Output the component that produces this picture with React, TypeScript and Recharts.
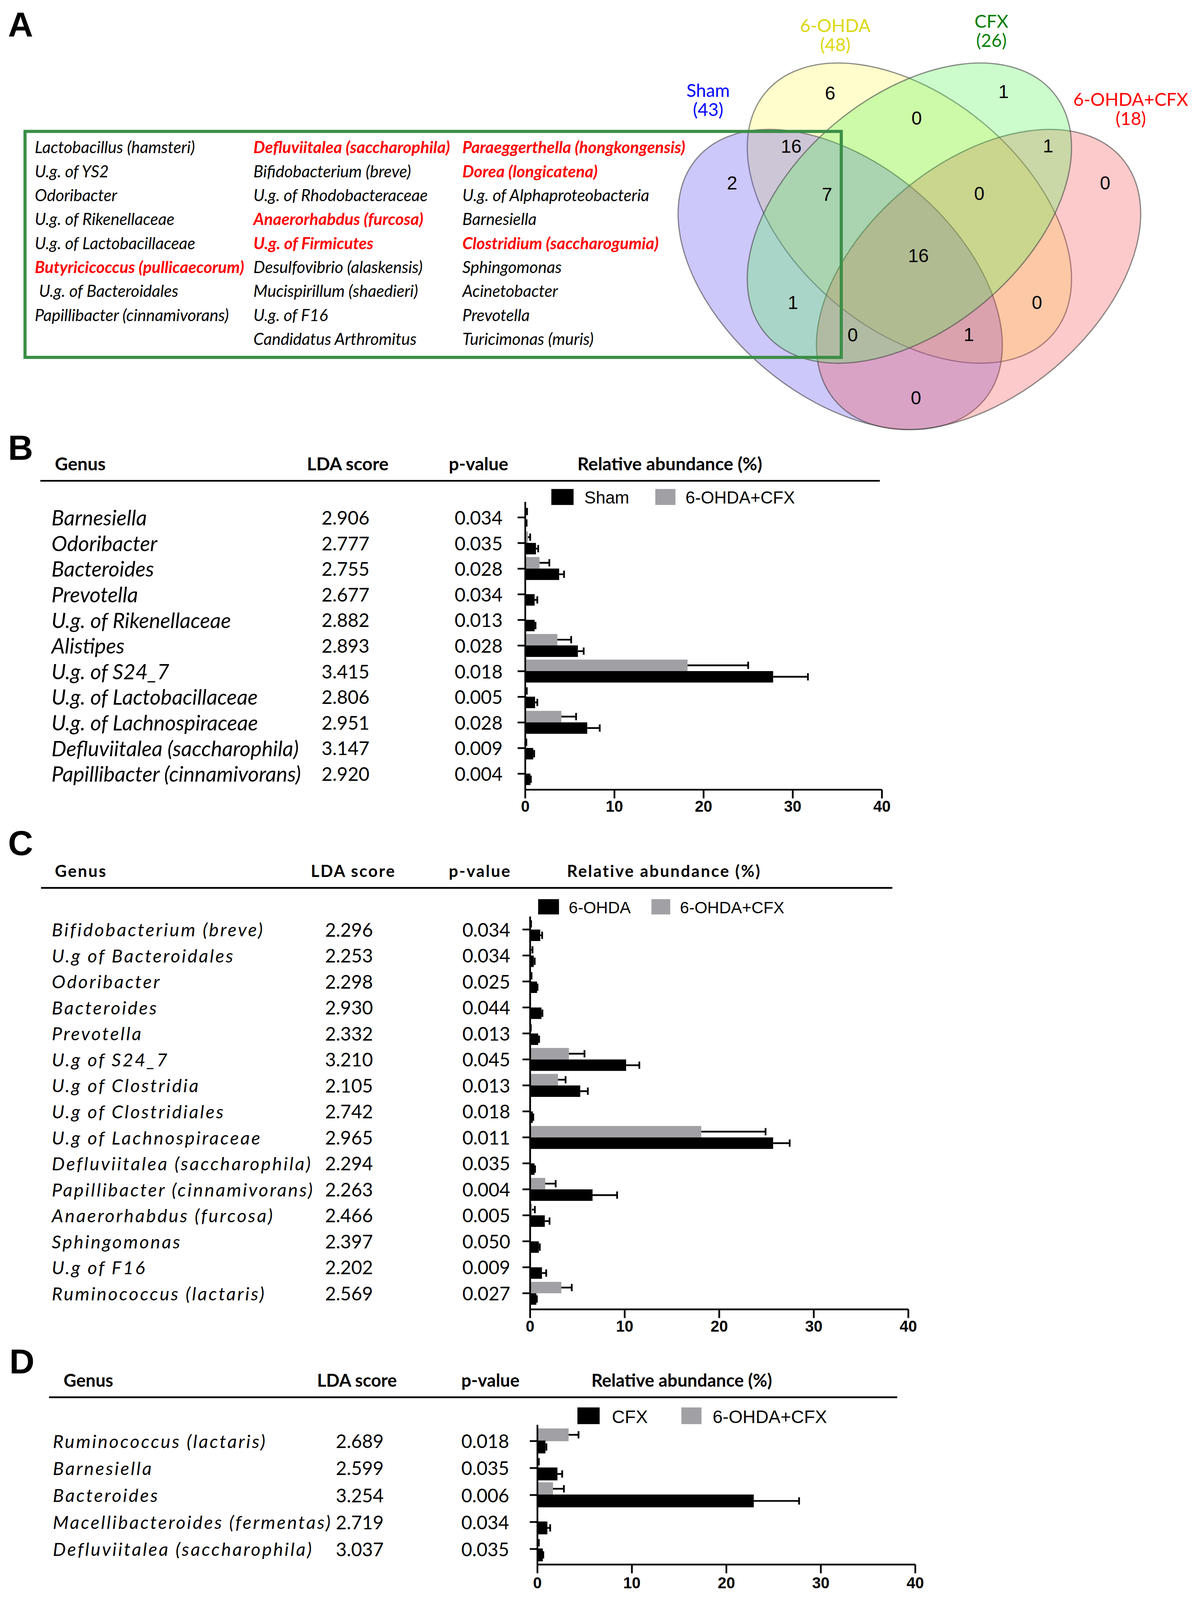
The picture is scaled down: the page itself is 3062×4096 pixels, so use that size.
import React from 'react';
import { BarChart, Bar, XAxis, YAxis, ErrorBar, Legend, ScatterChart, Scatter } from 'recharts';

const S = 0.89;
const u = (v: number) => v * S;
const CAL = "Lato, 'Noto Sans', sans-serif";
const ARIAL = "'Liberation Sans', Arial, sans-serif";
const GRAY = '#a1a1a5';

// ---------------- Panel A : Venn ----------------
const setNames = ['Sham', '6-OHDA', 'CFX', '6-OHDA+CFX'];
const setTotals = [43, 48, 26, 18];
const setFill = ['#5848ee', '#fffa55', '#55f555', '#f54e4e'];
const setTextColor = ['#0000ff', '#dcd80e', '#008000', '#ff0000'];
const drawOrder = [1, 0, 3, 2];
// venn layout units (1 unit = 10 px of the reference)
const ellipseX = [51.7, 71.6, 71.6, 91.5];
const ellipseY = [80.4, 61.3, 61.3, 80.4];
const ellipseRot = [40, 40, -40, -40];
const setLabelX = [13.7, 50.3, 95.2, 135.3];
const setLabelY = [26.3, 7.6, 6.4, 28.9];

const regionCounts = [6, 1, 0, 16, 1, 2, 7, 0, 0, 16, 1, 0, 0, 1, 0];
const regionX = [48.8, 98.7, 73.7, 37.6, 111.5, 20.6, 47.9, 91.7, 127.9, 74.2, 38.1, 108.3, 55.3, 88.7, 73.5];
const regionY = [26.7, 26.3, 33.9, 42.0, 41.9, 52.6, 55.8, 55.6, 52.5, 73.5, 86.9, 86.9, 96.3, 96.1, 114.4];

const listCol1 = ['Lactobacillus (hamsteri)', 'U.g. of YS2', 'Odoribacter', 'U.g. of Rikenellaceae', 'U.g. of Lactobacillaceae', 'Butyricicoccus (pullicaecorum)', ' U.g. of Bacteroidales', 'Papillibacter (cinnamivorans)'];
const listCol2 = ['Defluviitalea (saccharophila)', 'Bifidobacterium (breve)', 'U.g. of Rhodobacteraceae', 'Anaerorhabdus (furcosa)', 'U.g. of Firmicutes', 'Desulfovibrio (alaskensis)', 'Mucispirillum (shaedieri)', 'U.g. of F16', 'Candidatus Arthromitus'];
const listCol3 = ['Paraeggerthella (hongkongensis)', 'Dorea (longicatena)', 'U.g. of Alphaproteobacteria', 'Barnesiella', 'Clostridium (saccharogumia)', 'Sphingomonas', 'Acinetobacter', 'Prevotella', 'Turicimonas (muris)'];
const listRed = ['Butyricicoccus (pullicaecorum)', 'Defluviitalea (saccharophila)', 'Anaerorhabdus (furcosa)', 'U.g. of Firmicutes', 'Paraeggerthella (hongkongensis)', 'Dorea (longicatena)', 'Clostridium (saccharogumia)'];

// ---------------- Panel B ----------------
const genusB = ['Barnesiella', 'Odoribacter', 'Bacteroides', 'Prevotella', 'U.g. of Rikenellaceae', 'Alistipes', 'U.g. of S24_7', 'U.g. of Lactobacillaceae', 'U.g. of Lachnospiraceae', 'Defluviitalea (saccharophila)', 'Papillibacter (cinnamivorans)'];
const ldaB = ['2.906', '2.777', '2.755', '2.677', '2.882', '2.893', '3.415', '2.806', '2.951', '3.147', '2.920'];
const pB = ['0.034', '0.035', '0.028', '0.034', '0.013', '0.028', '0.018', '0.005', '0.028', '0.009', '0.004'];
const shamB = [0.05, 1.2, 3.8, 1.05, 1.05, 5.9, 27.8, 1.1, 6.95, 0.9, 0.58];
const shamErrB = [0.1, 0.25, 0.55, 0.3, 0.1, 0.65, 3.9, 0.25, 1.4, 0.1, 0.05];
const comboB = [0.05, 0.3, 1.6, 0, 0, 3.6, 18.2, 0.02, 4.05, 0.02, 0];
const comboErrB = [0.15, 0.25, 1.1, 0, 0, 1.55, 6.8, 0.15, 1.65, 0.1, 0];

// ---------------- Panel C ----------------
const genusC = ['Bifidobacterium (breve)', 'U.g of Bacteroidales', 'Odoribacter', 'Bacteroides', 'Prevotella', 'U.g of S24_7', 'U.g of Clostridia', 'U.g of Clostridiales', 'U.g of Lachnospiraceae', 'Defluviitalea (saccharophila)', 'Papillibacter (cinnamivorans)', 'Anaerorhabdus (furcosa)', 'Sphingomonas', 'U.g of F16', 'Ruminococcus (lactaris)'];
const ldaC = ['2.296', '2.253', '2.298', '2.930', '2.332', '3.210', '2.105', '2.742', '2.965', '2.294', '2.263', '2.466', '2.397', '2.202', '2.569'];
const pC = ['0.034', '0.034', '0.025', '0.044', '0.013', '0.045', '0.013', '0.018', '0.011', '0.035', '0.004', '0.005', '0.050', '0.009', '0.027'];
const ohdaC = [1.07, 0.38, 0.73, 1.2, 0.85, 10.15, 5.3, 0.28, 25.7, 0.47, 6.6, 1.55, 0.92, 1.25, 0.66];
const ohdaErrC = [0.2, 0.1, 0.05, 0.1, 0.1, 1.4, 0.8, 0.05, 1.75, 0.05, 2.6, 0.5, 0.1, 0.45, 0.05];
const comboC = [0.02, 0.1, 0.05, 0, 0.02, 4.1, 2.95, 0, 18.1, 0, 1.6, 0.2, 0, 0, 3.3];
const comboErrC = [0.08, 0.15, 0.1, 0, 0.05, 1.65, 0.8, 0, 6.8, 0, 1.1, 0.3, 0, 0, 1.1];

// ---------------- Panel D ----------------
const genusD = ['Ruminococcus (lactaris)', 'Barnesiella', 'Bacteroides', 'Macellibacteroides (fermentas)', 'Defluviitalea (saccharophila)'];
const ldaD = ['2.689', '2.599', '3.254', '2.719', '3.037'];
const pD = ['0.018', '0.035', '0.006', '0.034', '0.035'];
const cfxD = [0.85, 2.12, 22.9, 1.05, 0.57];
const cfxErrD = [0.1, 0.5, 4.8, 0.3, 0.05];
const comboD = [3.3, 0.05, 1.65, 0, 0.05];
const comboErrD = [1.05, 0.1, 1.15, 0, 0.1];

const xTicks = [0, 10, 20, 30, 40];
const headerLabels = ['Genus', 'LDA score', 'p-value', 'Relative abundance (%)'];

type Row = { name: string; lda: string; p: string; black: number; blackErr: number[]; gray: number; grayErr: number[] };
const buildRows = (g: string[], l: string[], p: string[], b: number[], be: number[], c: number[], ce: number[]): Row[] =>
  g.map((name, i) => ({ name, lda: l[i], p: p[i], black: b[i], blackErr: [0, be[i]], gray: c[i], grayErr: [0, ce[i]] }));

type LegendSpec = { y: number; h: number; sq1: number; w1: number; t1: number; sq2: number; w2: number; t2: number; cy: number; font: number };
type PanelSpec = {
  rows: Row[]; top: number; plotTop: number; plotBottom: number; axisX: number; axisEnd: number;
  padTop: number; padBottom: number; genusX: number; ldaX: number; pX: number;
  rowFont: number; rowLs: number; numFont: number; barSize: number; barGap: number; tickMargin: number;
  blackName: string; grayName: string; lg: LegendSpec;
};

function LefsePanel({ spec }: { spec: PanelSpec }) {
  const W = u(spec.axisEnd + 70);
  const mTop = u(spec.plotTop - spec.top);
  const xh = u(100);
  const H = mTop + u(spec.plotBottom - spec.plotTop) + xh;
  const byName = new Map(spec.rows.map((r) => [r.name, r]));
  const renderTick = (props: any) => {
    const { y, payload } = props;
    const r = byName.get(payload.value);
    if (!r) return <g />;
    return (
      <g>
        <text x={u(spec.genusX)} y={y} dy="0.38em" fontFamily={CAL} fontStyle="italic" fontSize={spec.rowFont} letterSpacing={spec.rowLs} fill="#000">{r.name}</text>
        <text x={u(spec.ldaX)} y={y} dy="0.38em" fontFamily={CAL} fontSize={spec.numFont} fill="#000">{r.lda}</text>
        <text x={u(spec.pX)} y={y} dy="0.38em" fontFamily={CAL} fontSize={spec.numFont} fill="#000">{r.p}</text>
      </g>
    );
  };
  const lg = spec.lg;
  const renderLegend = (props: any) => {
    const pl = props.payload || [];
    const blackItem = pl.find((it: any) => it.dataKey === 'black');
    const grayItem = pl.find((it: any) => it.dataKey === 'gray');
    const items = [blackItem, grayItem].filter(Boolean);
    const sq = [lg.sq1, lg.sq2];
    const sw = [lg.w1, lg.w2];
    const tx = [lg.t1, lg.t2];
    return (
      <svg width={W} height={H} style={{ position: 'absolute', left: 0, top: 0, overflow: 'visible' }}>
        {items.map((it: any, i: number) => (
          <g key={i}>
            <rect x={u(sq[i])} y={u(lg.y - spec.top)} width={u(sw[i])} height={u(lg.h)} fill={it.color} />
            <text x={u(tx[i])} y={u(lg.cy - spec.top)} dy="0.36em" fontFamily={ARIAL} fontSize={lg.font} fill="#000">{it.value}</text>
          </g>
        ))}
      </svg>
    );
  };
  const axisStyle = { stroke: '#000', strokeWidth: u(5) };
  return (
    <div style={{ position: 'absolute', left: 0, top: u(spec.top), width: W, height: H }}>
      <BarChart width={W} height={H} data={spec.rows} layout="vertical" margin={{ top: mTop, right: W - u(spec.axisEnd), bottom: 0, left: 0 }} barGap={u(spec.barGap)} barCategoryGap={0}>
        <XAxis type="number" domain={[0, 40]} ticks={xTicks} interval={0} height={xh} tickSize={u(25)} tickMargin={u(spec.tickMargin)} axisLine={axisStyle} tickLine={axisStyle} tick={{ fill: '#000', fontFamily: ARIAL, fontWeight: 700, fontSize: 40 }} />
        <YAxis type="category" dataKey="name" width={u(spec.axisX)} interval={0} tickSize={u(22)} tickMargin={0} padding={{ top: u(spec.padTop), bottom: u(spec.padBottom) }} axisLine={axisStyle} tickLine={axisStyle} tick={renderTick} />
        <Legend layout="horizontal" verticalAlign="middle" align="center" wrapperStyle={{ left: 0, top: 0, width: W, height: H, margin: 0 }} content={renderLegend} />
        <Bar dataKey="gray" name={spec.grayName} fill={GRAY} barSize={u(spec.barSize)} isAnimationActive={false}>
          <ErrorBar dataKey="grayErr" direction="x" width={u(10.5)} stroke="#000" strokeWidth={u(5)} isAnimationActive={false} />
        </Bar>
        <Bar dataKey="black" name={spec.blackName} fill="#000" barSize={u(spec.barSize)} isAnimationActive={false}>
          <ErrorBar dataKey="blackErr" direction="x" width={u(10.5)} stroke="#000" strokeWidth={u(5)} isAnimationActive={false} />
        </Bar>
      </BarChart>
    </div>
  );
}

const specB: PanelSpec = {
  rows: buildRows(genusB, ldaB, pB, shamB, shamErrB, comboB, comboErrB),
  top: 1395, plotTop: 1443, plotBottom: 2271, axisX: 1511, axisEnd: 2537, padTop: 8, padBottom: 9,
  genusX: 148, ldaX: 925, pX: 1308, rowFont: 54, rowLs: 0, numFont: 48, barSize: 33, barGap: 0, tickMargin: 6,
  blackName: 'Sham', grayName: '6-OHDA+CFX',
  lg: { y: 1406, h: 46, sq1: 1586, w1: 64, t1: 1681, sq2: 1885, w2: 58, t2: 1972, cy: 1430, font: 44 },
};
const specC: PanelSpec = {
  rows: buildRows(genusC, ldaC, pC, ohdaC, ohdaErrC, comboC, comboErrC),
  top: 2575, plotTop: 2636, plotBottom: 3766, axisX: 1525, axisEnd: 2613, padTop: 0, padBottom: 9,
  genusX: 149, ldaX: 935, pX: 1330, rowFont: 47, rowLs: 4, numFont: 48, barSize: 33, barGap: 0, tickMargin: 7,
  blackName: '6-OHDA', grayName: '6-OHDA+CFX',
  lg: { y: 2586, h: 44, sq1: 1548, w1: 60, t1: 1636, sq2: 1874, w2: 54, t2: 1956, cy: 2610, font: 42 },
};
const specD: PanelSpec = {
  rows: buildRows(genusD, ldaD, pD, cfxD, cfxErrD, comboD, comboErrD),
  top: 4030, plotTop: 4098, plotBottom: 4500, axisX: 1546, axisEnd: 2633, padTop: 8, padBottom: 6,
  genusX: 152, ldaX: 966, pX: 1327, rowFont: 47, rowLs: 4, numFont: 48, barSize: 37, barGap: -2, tickMargin: 11,
  blackName: 'CFX', grayName: '6-OHDA+CFX',
  lg: { y: 4048, h: 48, sq1: 1661, w1: 64, t1: 1760, sq2: 1960, w2: 58, t2: 2050, cy: 4074, font: 46 },
};

const headers = [
  { y: 1334, lineY: 1383, x1: 116, x2: 2531, xs: [158, 883, 1291, 1661], font: 46, ls: 0 },
  { y: 2505, lineY: 2554, x1: 118, x2: 2567, xs: [158, 894, 1291, 1631], font: 42, ls: 3 },
  { y: 3970, lineY: 4019, x1: 141, x2: 2581, xs: [183, 912, 1327, 1701], font: 45, ls: 0 },
];
const panelLetters = [['A', 23, 106], ['B', 23, 1322], ['C', 23, 2460], ['D', 27, 3950]] as const;

const vennEllipses = drawOrder.map((i) => ({ x: ellipseX[i], y: ellipseY[i], rot: ellipseRot[i], fill: setFill[i], name: setNames[i] }));
const vennSetLabels = setNames.map((n, i) => ({ x: setLabelX[i], y: setLabelY[i], name: n, total: setTotals[i], color: setTextColor[i] }));
const vennRegions = regionCounts.map((c, i) => ({ x: regionX[i], y: regionY[i], count: c }));

const EllipseShape = (p: any) => {
  const { cx, cy, payload } = p;
  return (
    <ellipse cx={cx} cy={cy} rx={u(540)} ry={u(335)} transform={`rotate(${payload.rot} ${cx} ${cy})`} fill={payload.fill}
      fillOpacity={0.3} stroke="#444" strokeOpacity={0.6} strokeWidth={u(3.5)} />
  );
};
const SetLabelShape = (p: any) => {
  const { cx, cy, payload } = p;
  return (
    <text x={cx} y={cy} textAnchor="middle" fontFamily={CAL} fontSize={46} fill={payload.color}>
      <tspan x={cx} dy={u(16)}>{payload.name}</tspan>
      <tspan x={cx} dy={u(55)}>({payload.total})</tspan>
    </text>
  );
};
const RegionShape = (p: any) => {
  const { cx, cy, payload } = p;
  return <text x={cx} y={cy} dy="0.36em" textAnchor="middle" fontFamily={ARIAL} fontSize={48} fill="#000">{payload.count}</text>;
};

function Venn() {
  const W = u(1540);
  const H = u(1300);
  return (
    <div style={{ position: 'absolute', left: u(1900), top: 0, width: W, height: H }}>
      <ScatterChart width={W} height={H} margin={{ top: 0, right: 0, bottom: 0, left: 0 }}>
        <XAxis type="number" dataKey="x" domain={[0, 154]} hide />
        <YAxis type="number" dataKey="y" domain={[0, 130]} reversed hide />
        <Scatter data={vennEllipses} shape={EllipseShape} isAnimationActive={false} />
        <Scatter data={vennSetLabels} shape={SetLabelShape} isAnimationActive={false} />
        <Scatter data={vennRegions} shape={RegionShape} isAnimationActive={false} />
      </ScatterChart>
    </div>
  );
}

function Overlay() {
  const cols = [listCol1, listCol2, listCol3];
  const colX = [100, 729, 1330];
  return (
    <svg width={3062} height={4096} style={{ position: 'absolute', left: 0, top: 0, pointerEvents: 'none' }}>
      {panelLetters.map(([l, x, y]) => (
        <text key={l} x={u(x)} y={u(y)} fontFamily={ARIAL} fontWeight={700} fontSize={89} fill="#000">{l}</text>
      ))}
      <rect x={u(72)} y={u(378)} width={u(2348)} height={u(650)} fill="none" stroke="#3b8e47" strokeWidth={u(9)} />
      {cols.map((col, ci) =>
        col.map((t, ri) => {
          const red = listRed.includes(t.trim());
          const x = colX[ci] + (t.startsWith(' ') ? 12 : 0);
          return (
            <text key={`${ci}-${ri}`} x={u(x)} y={u(424 + ri * 68.9)} dy="0.36em" fontFamily={CAL} fontStyle="italic"
              fontWeight={red ? 700 : 400} fontSize={42} fill={red ? '#ff0000' : '#000'}>{t.trim()}</text>
          );
        })
      )}
      {headers.map((h, hi) => (
        <g key={hi}>
          {headerLabels.map((lab, li) => (
            <text key={li} x={u(h.xs[li])} y={u(h.y)} dy="0.36em" fontFamily={CAL} fontWeight={700} fontSize={h.font} letterSpacing={h.ls} fill="#000">{lab}</text>
          ))}
          <line x1={u(h.x1)} x2={u(h.x2)} y1={u(h.lineY)} y2={u(h.lineY)} stroke="#000" strokeWidth={u(5)} />
        </g>
      ))}
    </svg>
  );
}

export default function App() {
  return (
    <div style={{ position: 'absolute', left: 0, top: 0, width: 3062, height: 4096, background: '#fff', overflow: 'hidden' }}>
      <style>{`.recharts-errorBar line:nth-of-type(3){display:none;}`}</style>
      <Venn />
      <LefsePanel spec={specB} />
      <LefsePanel spec={specC} />
      <LefsePanel spec={specD} />
      <Overlay />
    </div>
  );
}
